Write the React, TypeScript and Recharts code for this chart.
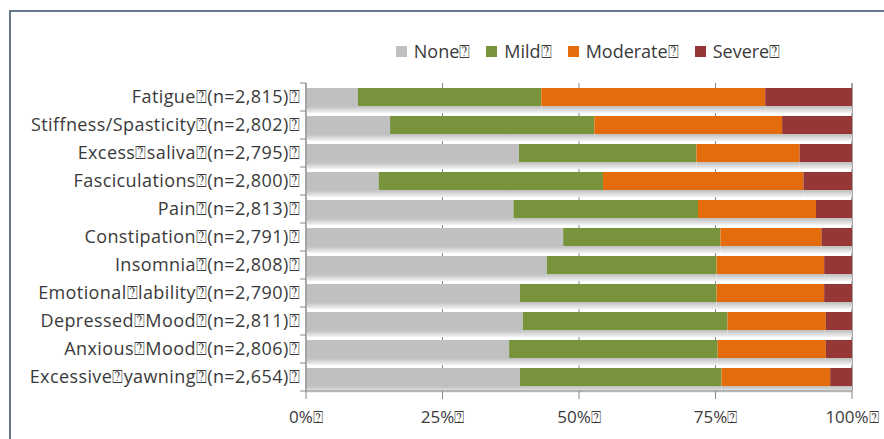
import React from 'react';
import { Bar, BarChart, CartesianGrid, Legend, XAxis, YAxis } from 'recharts';

// symptom rows, top to bottom (the box glyphs are in the source text)
const categories = [
  'Fatigue⍰(n=2,815)⍰',
  'Stiffness/Spasticity⍰(n=2,802)⍰',
  'Excess⍰saliva⍰(n=2,795)⍰',
  'Fasciculations⍰(n=2,800)⍰',
  'Pain⍰(n=2,813)⍰',
  'Constipation⍰(n=2,791)⍰',
  'Insomnia⍰(n=2,808)⍰',
  'Emotional⍰lability⍰(n=2,790)⍰',
  'Depressed⍰Mood⍰(n=2,811)⍰',
  'Anxious⍰Mood⍰(n=2,806)⍰',
  'Excessive⍰yawning⍰(n=2,654)⍰',
];

const none = [9.5, 15.4, 39.0, 13.3, 38.0, 47.1, 44.1, 39.2, 39.7, 37.2, 39.2];
const mild = [33.6, 37.4, 32.5, 41.1, 33.8, 28.8, 31.1, 36.0, 37.5, 38.2, 36.9];
const moderate = [41.0, 34.4, 18.9, 36.7, 21.6, 18.5, 19.7, 19.7, 18.0, 19.8, 19.9];
const severe = [15.9, 12.8, 9.6, 8.9, 6.6, 5.6, 5.1, 5.1, 4.8, 4.8, 4.0];

const seriesKeys = ['none', 'mild', 'moderate', 'severe'];
const seriesNames = ['None⍰', 'Mild⍰', 'Moderate⍰', 'Severe⍰'];
const seriesColors = ['#c0c0c0', '#77933c', '#e46c0a', '#953735'];

const xTicks = [0, 25, 50, 75, 100];

const data = categories.map((name, i) => ({
  name,
  none: none[i],
  mild: mild[i],
  moderate: moderate[i],
  severe: severe[i],
}));

const FONT = '"Open Sans", Lato, sans-serif';
const TEXT = '#3a3a3a';

// bar segment with the pale drop shadow under it
const ShadowBar = (props: any) => {
  const { x, y, width, height, fill } = props;
  return (
    <g>
      <rect x={x} y={y + height} width={width} height={7} fill="url(#barShadow)" />
      <rect x={x} y={y} width={width} height={height} fill={fill} />
    </g>
  );
};

// category label + excel-style tick between rows
const CatTick = (props: any) => {
  const { x, y, payload, index } = props;
  const last = index === categories.length - 1;
  return (
    <g>
      <line x1={x} x2={x + 6} y1={y - 14} y2={y - 14} stroke="#868686" />
      {last && <line x1={x} x2={x + 6} y1={y + 14} y2={y + 14} stroke="#868686" />}
      <text
        x={x}
        y={y}
        dy="0.36em"
        textAnchor="end"
        fill={TEXT}
        fontSize={18}
        letterSpacing={0.4}
        fontFamily={FONT}
      >
        {payload.value}
      </text>
    </g>
  );
};

// legend kept in series order (recharts sorts by name otherwise)
const SeriesLegend = () => (
  <div style={{ display: 'flex', justifyContent: 'center', gap: 16, fontFamily: FONT, fontSize: 18, color: TEXT }}>
    {seriesNames.map((n, i) => (
      <span key={n} style={{ display: 'inline-flex', alignItems: 'center' }}>
        <span style={{ width: 11, height: 11, background: seriesColors[i], marginRight: 7, display: 'inline-block' }} />
        {n}
      </span>
    ))}
  </div>
);

export default function App() {
  return (
    <div style={{ position: 'absolute', left: 0, top: 0, width: 884, height: 439, overflow: 'hidden', background: '#fff' }}>
      <div
        style={{
          position: 'absolute',
          left: 9,
          top: 10,
          width: 875,
          height: 429,
          borderTop: '2px solid #66768b',
          borderLeft: '2px solid #66768b',
          boxSizing: 'border-box',
        }}
      />
      <div style={{ position: 'absolute', left: 0, top: 0 }}>
        <BarChart
          width={884}
          height={439}
          data={data}
          layout="vertical"
          margin={{ top: 83, right: 32, bottom: 18, left: 0 }}
          barSize={18}
        >
          <defs>
            <linearGradient id="barShadow" x1="0" y1="0" x2="0" y2="1">
              <stop offset="0%" stopColor="#bdbdbd" />
              <stop offset="100%" stopColor="#f3f3f3" />
            </linearGradient>
          </defs>
          <CartesianGrid vertical horizontal={false} stroke="#868686" />
          <XAxis
            type="number"
            domain={[0, 100]}
            ticks={xTicks}
            tickFormatter={(v) => `${v}%⍰`}
            height={30}
            stroke="#868686"
            tickSize={8}
            tickMargin={12}
            tick={{ fill: TEXT, fontSize: 17, fontFamily: FONT }}
          />
          <YAxis
            type="category"
            dataKey="name"
            width={306}
            stroke="#868686"
            tickLine={false}
            tickSize={0}
            tickMargin={6}
            interval={0}
            tick={<CatTick />}
          />
          <Legend
            verticalAlign="middle"
            align="center"
            content={<SeriesLegend />}
            wrapperStyle={{ top: 39, left: 296, width: 584, height: 26 }}
          />
          {seriesKeys.map((k, i) => (
            <Bar
              key={k}
              dataKey={k}
              name={seriesNames[i]}
              stackId="a"
              fill={seriesColors[i]}
              shape={<ShadowBar />}
              isAnimationActive={false}
            />
          ))}
        </BarChart>
      </div>
    </div>
  );
}
